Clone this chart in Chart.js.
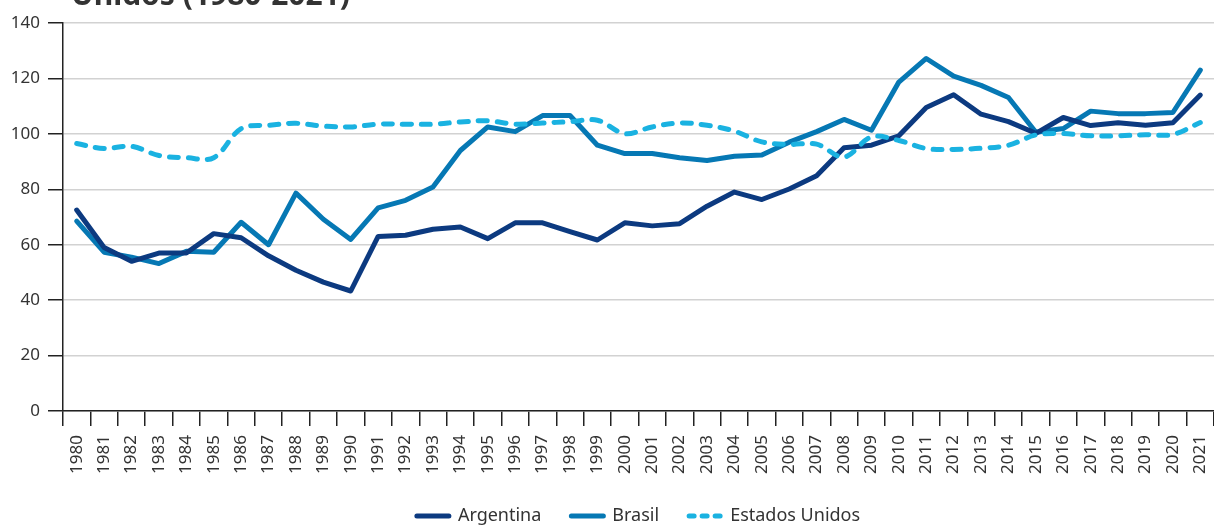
<!DOCTYPE html>
<html>
<head>
<meta charset="utf-8">
<script src="https://cdn.jsdelivr.net/npm/chart.js@4/dist/chart.umd.min.js"></script>
<style>
    body { margin: 0; background: #fff; }
    #wrap { position: relative; width: 1214px; height: 525px; overflow: hidden; }
    #title {
        position: absolute; left: 71px; top: -21px;
        font: bold 30px "Noto Sans", sans-serif; line-height: 30px; color: #333;
        white-space: nowrap;
    }
</style>
</head>
<body>
<div id="wrap">
    <canvas id="chart" width="1214" height="525"></canvas>
    <div id="title">Unidos (1980-2021)</div>
</div>
<script>
const years = ["1980", "1981", "1982", "1983", "1984", "1985", "1986", "1987", "1988", "1989",
    "1990", "1991", "1992", "1993", "1994", "1995", "1996", "1997", "1998", "1999",
    "2000", "2001", "2002", "2003", "2004", "2005", "2006", "2007", "2008", "2009",
    "2010", "2011", "2012", "2013", "2014", "2015", "2016", "2017", "2018", "2019",
    "2020", "2021"];

const argentina = [72.5, 59, 54, 57, 57, 64, 62.5, 56, 50.8, 46.5,
    43.3, 63, 63.4, 65.6, 66.4, 62.2, 67.9, 67.9, 64.7, 61.7,
    67.9, 66.8, 67.6, 73.9, 79, 76.3, 80.1, 84.9, 95, 95.9,
    99.3, 109.5, 114.1, 107.1, 104.4, 100.2, 105.9, 103, 104, 103.1,
    104, 114];

const brasil = [68.5, 57.3, 55.5, 53.2, 57.6, 57.3, 68.1, 60, 78.6, 69.2,
    61.9, 73.3, 76, 80.8, 94, 102.5, 100.8, 106.6, 106.6, 95.9,
    92.9, 92.9, 91.4, 90.4, 91.9, 92.4, 97, 100.8, 105.2, 101.3,
    118.7, 127.2, 120.8, 117.5, 113.1, 100.6, 101.9, 108.2, 107.3, 107.3,
    107.7, 123];

const estadosUnidos = [96.5, 94.7, 95.5, 92.2, 91.4, 91.4, 101.9, 103.1, 103.8, 102.8,
    102.5, 103.5, 103.5, 103.5, 104.3, 104.7, 103.5, 103.9, 104.4, 104.9,
    100.1, 102.5, 103.9, 103.1, 101, 97.1, 96.2, 96.3, 91.6, 98.9,
    97.6, 94.7, 94.4, 94.8, 95.9, 99.6, 100.1, 99.3, 99.3, 99.7,
    99.8, 104.1];

const yTicks = [0, 20, 40, 60, 80, 100, 120, 140];

const tickFont = { family: "'Noto Sans', sans-serif", size: 17 };
const legendFont = { family: "'Noto Sans', sans-serif", size: 18 };

// legend lines use the dataset's own width, colour and round caps
const legendLabels = (chart) => {
    const items = Chart.defaults.plugins.legend.labels.generateLabels(chart);
    return items.map((item) => {
        const ds = chart.data.datasets[item.datasetIndex];
        item.lineWidth = ds.borderWidth;
        item.lineDash = ds.borderDash ? [5, 8] : [];
        item.lineCap = "round";
        item.strokeStyle = ds.borderColor;
        item.pointStyle = "line";
        return item;
    });
};

new Chart(document.getElementById("chart"), {
    type: "line",
    data: {
        labels: years,
        datasets: [
            {
                label: "Argentina",
                data: argentina,
                borderColor: "#0c3a80",
                backgroundColor: "#0c3a80",
                borderWidth: 5,
                borderCapStyle: "round",
                borderJoinStyle: "round",
                pointRadius: 0,
                tension: 0,
                order: 2,
            },
            {
                label: "Brasil",
                data: brasil,
                borderColor: "#0678b4",
                backgroundColor: "#0678b4",
                borderWidth: 5,
                borderCapStyle: "round",
                borderJoinStyle: "round",
                pointRadius: 0,
                tension: 0,
                order: 3,
            },
            {
                label: "Estados Unidos",
                data: estadosUnidos,
                borderColor: "#1ab2e1",
                backgroundColor: "#1ab2e1",
                borderWidth: 5,
                borderDash: [9, 10],
                borderCapStyle: "round",
                pointRadius: 0,
                tension: 0.35,
                order: 1,
            },
        ],
    },
    options: {
        responsive: false,
        animation: false,
        layout: { padding: { top: 23, right: 0, left: 0, bottom: -10 } },
        plugins: {
            tooltip: { enabled: false },
            legend: {
                position: "bottom",
                fullSize: false,
                labels: {
                    usePointStyle: true,
                    pointStyle: "line",
                    pointStyleWidth: 32,
                    boxWidth: 32,
                    boxHeight: 5,
                    padding: 30,
                    color: "#333",
                    font: legendFont,
                    generateLabels: legendLabels,
                    sort: (a, b) => a.datasetIndex - b.datasetIndex,
                },
            },
        },
        scales: {
            x: {
                offset: true,
                border: { color: "#222", width: 1.5 },
                grid: { offset: true, drawOnChartArea: false, tickLength: 15, color: "#222", tickColor: "#222", lineWidth: 1.5 },
                ticks: { minRotation: 90, maxRotation: 90, padding: 9, color: "#333", font: tickFont, autoSkip: false },
                afterFit: (s) => { s.height = 66; s.paddingLeft = 0; s.paddingRight = 0; },
            },
            y: {
                min: 0,
                max: 140,
                border: { color: "#222", width: 1.5 },
                grid: { color: "#d2d2d2", lineWidth: 1.5, tickLength: 15, tickColor: "#222" },
                afterBuildTicks: (s) => { s.ticks = yTicks.map((v) => ({ value: v })); },
                ticks: { padding: 8, color: "#333", font: tickFont },
                afterFit: (s) => { s.width = 63; },
            },
        },
    },
});
</script>
</body>
</html>
